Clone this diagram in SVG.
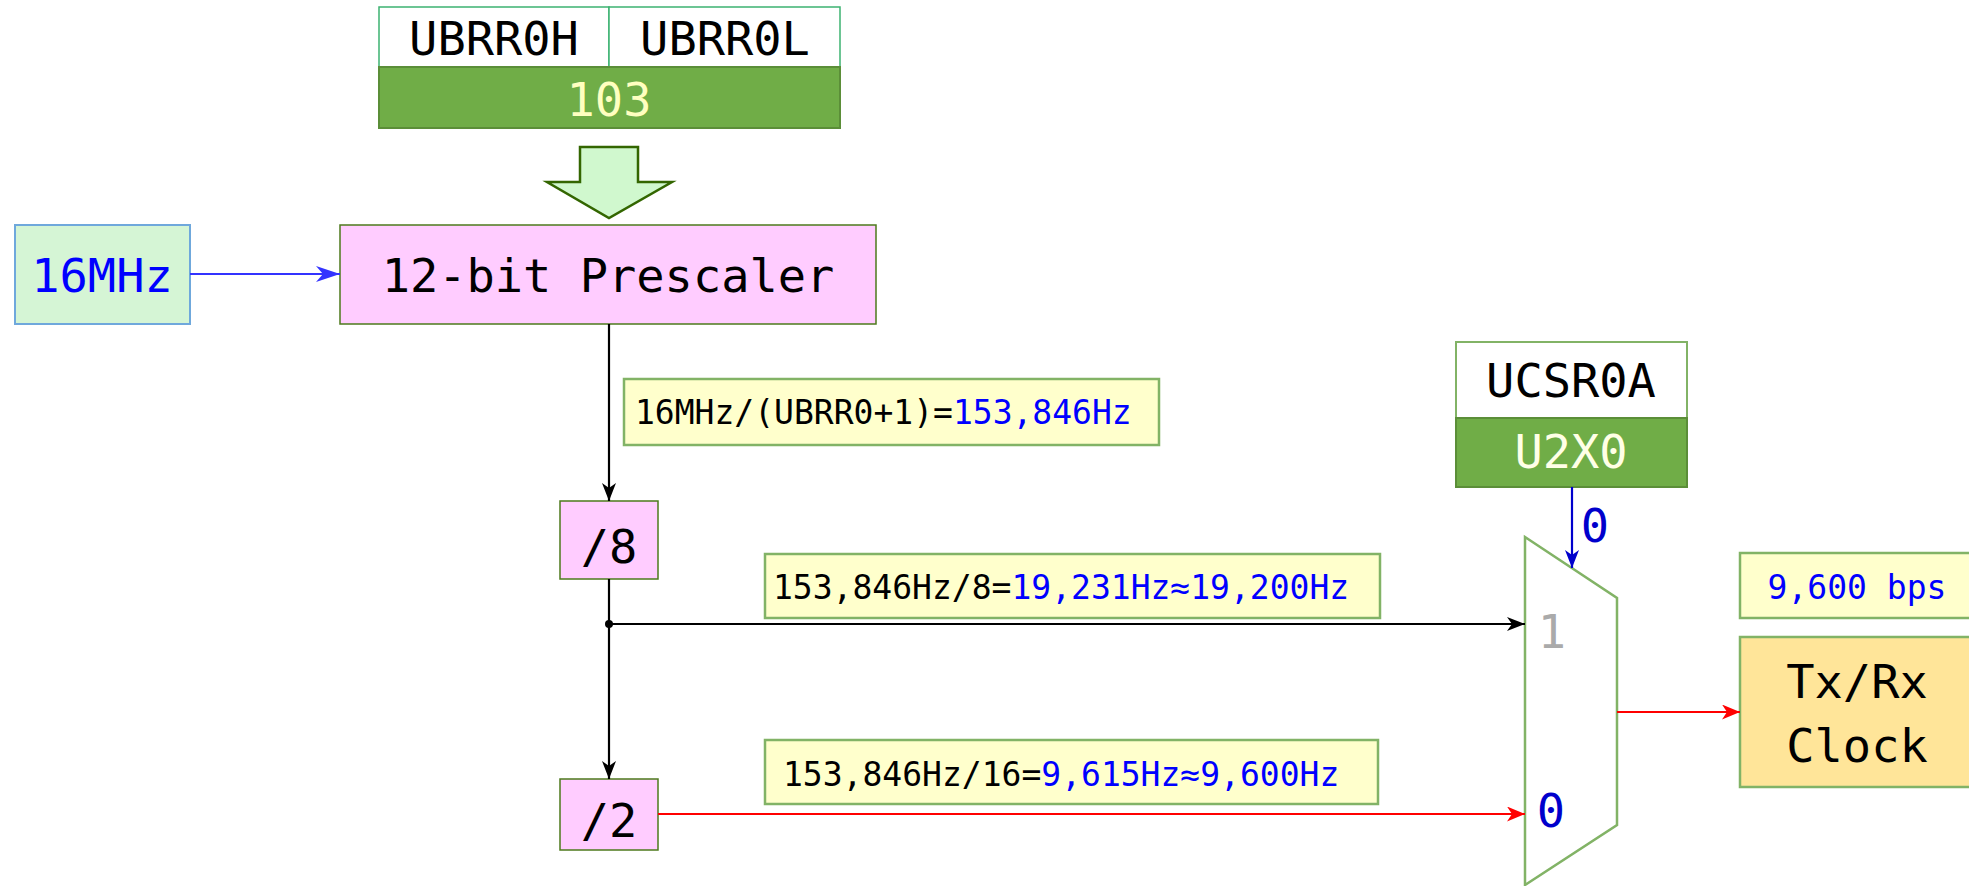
<svg xmlns="http://www.w3.org/2000/svg" width="1969" height="886" viewBox="0 0 1969 886">
  <style>
    text { font-family: "DejaVu Sans Mono", "Liberation Mono", monospace; }
    .big { font-size: 47px; text-anchor: middle; }
    .lbl { font-size: 33px; }
    .blk { fill: #000000; }
    .blu { fill: #0000ff; }
    .pink { fill: #ffccff; stroke: #4d7a1c; stroke-width: 1.5; }
    .note { fill: #ffffcc; stroke: #82b366; stroke-width: 2.5; }
    .reg { fill: #ffffff; stroke: #82b366; stroke-width: 2; }
    .bit { fill: #70ad47; stroke: #5b8e38; stroke-width: 2; }
    .wire { fill: none; stroke-width: 2.2; }
  </style>
  <defs>
    <marker id="arrBlack" viewBox="0 0 18 14" refX="18" refY="7" markerWidth="18" markerHeight="14" markerUnits="userSpaceOnUse" orient="auto">
      <path d="M0,0 L18,7 L0,14 L5,7 Z" fill="#000000"/>
    </marker>
    <marker id="arrRed" viewBox="0 0 18 15" refX="18" refY="7.5" markerWidth="18" markerHeight="15" markerUnits="userSpaceOnUse" orient="auto">
      <path d="M0,0 L18,7.5 L0,15 L5,7.5 Z" fill="#ff0000"/>
    </marker>
    <marker id="arrBlue" viewBox="0 0 24 16" refX="24" refY="8" markerWidth="24" markerHeight="16" markerUnits="userSpaceOnUse" orient="auto">
      <path d="M0,0 L24,8 L0,16 L7,8 Z" fill="#3333ff"/>
    </marker>
    <marker id="arrDkBlue" viewBox="0 0 18 14" refX="18" refY="7" markerWidth="18" markerHeight="14" markerUnits="userSpaceOnUse" orient="auto">
      <path d="M0,0 L18,7 L0,14 L5,7 Z" fill="#0000cc"/>
    </marker>
  </defs>

  <!-- baud rate register pair -->
  <g id="ubrr0">
    <rect x="379" y="7" width="230" height="60" fill="#ffffff" stroke="#3cb371" stroke-width="1.5"/>
    <rect x="609" y="7" width="231" height="60" fill="#ffffff" stroke="#3cb371" stroke-width="1.5"/>
    <rect x="379" y="67" width="461" height="61" class="bit"/>
    <text x="494" y="55" class="big blk" font-size="46">UBRR0H</text>
    <text x="725" y="55" class="big blk" font-size="46">UBRR0L</text>
    <text x="609" y="116" class="big" font-size="46" fill="#ffffc0">103</text>
  </g>

  <!-- load arrow -->
  <g id="load-arrow">
    <path d="M580,147 L638,147 L638,182 L672,182 L609,218 L547,182 L580,182 Z" fill="#d0f8ce" stroke="#336600" stroke-width="2.5"/>
  </g>

  <!-- clock source -->
  <g id="clk16">
    <rect x="15" y="225" width="175" height="99" fill="#d5f5d5" stroke="#6fa8dc" stroke-width="2"/>
    <text x="102" y="292" class="big blu">16MHz</text>
  </g>

  <g id="prescaler">
    <rect x="340" y="225" width="536" height="99" class="pink"/>
    <text x="608" y="292" class="big blk">12-bit Prescaler</text>
  </g>

  <g id="note-prescaled">
    <rect x="624" y="379" width="535" height="66" class="note"/>
    <text x="635" y="424" class="lbl blk" font-size="34">16MHz/(UBRR0+1)=<tspan class="blu">153,846Hz</tspan></text>
  </g>

  <g id="div8">
    <rect x="560" y="501" width="98" height="78" class="pink"/>
    <text x="609" y="563" class="big blk">/8</text>
  </g>

  <g id="note-div8">
    <rect x="765" y="554" width="615" height="64" class="note"/>
    <text x="773" y="599" class="lbl blk">153,846Hz/8=<tspan class="blu">19,231Hz≈19,200Hz</tspan></text>
  </g>

  <g id="div2">
    <rect x="560" y="779" width="98" height="71" class="pink"/>
    <text x="609" y="837" class="big blk">/2</text>
  </g>

  <g id="note-div16">
    <rect x="765" y="740" width="613" height="64" class="note"/>
    <text x="783" y="786" class="lbl blk">153,846Hz/16=<tspan class="blu">9,615Hz≈9,600Hz</tspan></text>
  </g>

  <g id="ucsr0a">
    <rect x="1456" y="342" width="231" height="76" class="reg"/>
    <rect x="1456" y="418" width="231" height="69" class="bit"/>
    <text x="1571" y="397" class="big blk" font-size="48">UCSR0A</text>
    <text x="1571" y="468" class="big" font-size="48" fill="#ffffe6">U2X0</text>
  </g>

  <g id="mux">
    <path d="M1525,537 L1617,598 L1617,825 L1525,885 Z" fill="#ffffff" stroke="#82b366" stroke-width="2.5"/>
    <text x="1552" y="648" class="big" font-size="46" fill="#aaaaaa">1</text>
    <text x="1551" y="827" class="big" font-size="46" fill="#0000cc">0</text>
  </g>

  <g id="note-bps">
    <rect x="1740" y="553" width="240" height="65" class="note"/>
    <text x="1857" y="599" class="lbl blu" font-size="34" text-anchor="middle">9,600 bps</text>
  </g>

  <g id="txrx-clock">
    <rect x="1740" y="637" width="240" height="150" fill="#ffe599" stroke="#82b366" stroke-width="2.5"/>
    <text x="1857" y="698" class="big blk" font-size="48">Tx/Rx</text>
    <text x="1857" y="762" class="big blk" font-size="48">Clock</text>
  </g>

  <!-- connectors -->
  <g id="connectors">
    <line x1="190" y1="274" x2="340" y2="274" class="wire" stroke="#3333ff" marker-end="url(#arrBlue)"/>
    <line x1="609" y1="324" x2="609" y2="501" class="wire" stroke="#000000" marker-end="url(#arrBlack)"/>
    <line x1="609" y1="579" x2="609" y2="779" class="wire" stroke="#000000" marker-end="url(#arrBlack)"/>
    <circle cx="609" cy="624" r="4" fill="#000000"/>
    <line x1="609" y1="624" x2="1525" y2="624" class="wire" stroke="#000000" marker-end="url(#arrBlack)"/>
    <line x1="658" y1="814" x2="1525" y2="814" class="wire" stroke="#ff0000" marker-end="url(#arrRed)"/>
    <line x1="1617" y1="712" x2="1740" y2="712" class="wire" stroke="#ff0000" marker-end="url(#arrRed)"/>
    <line x1="1572" y1="487" x2="1572" y2="568" class="wire" stroke="#0000cc" marker-end="url(#arrDkBlue)"/>
    <text x="1595" y="542" class="big" font-size="46" fill="#0000cc">0</text>
  </g>
</svg>
